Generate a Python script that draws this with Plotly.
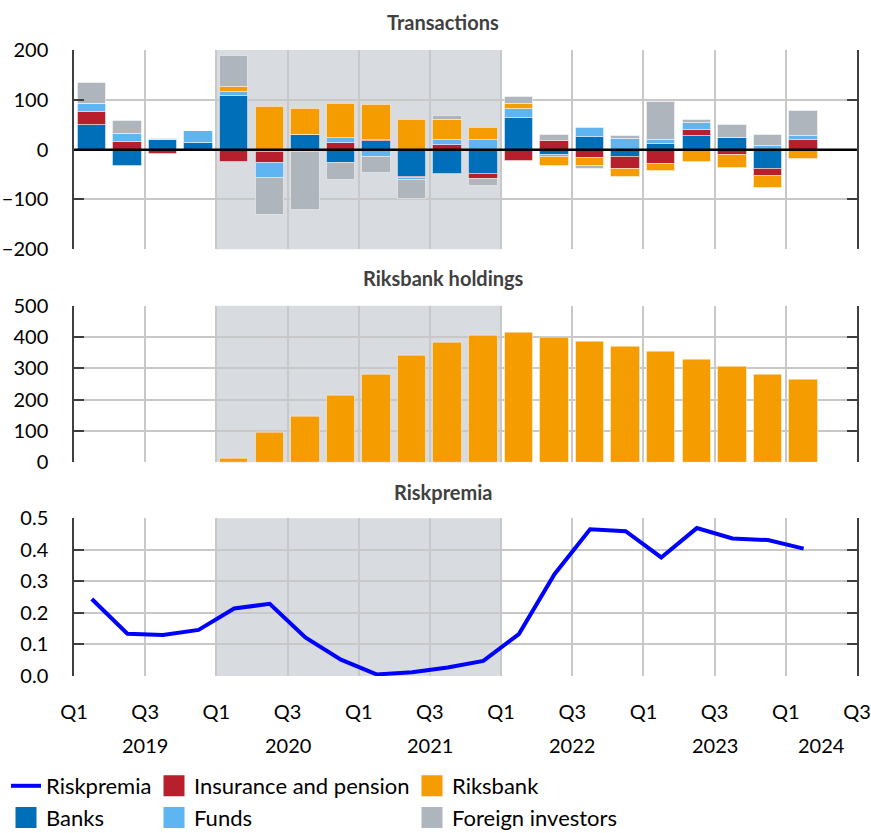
import numpy as np
import plotly.graph_objects as go

# ---------------- data ----------------
quarters = ["2019Q1", "2019Q2", "2019Q3", "2019Q4",
            "2020Q1", "2020Q2", "2020Q3", "2020Q4",
            "2021Q1", "2021Q2", "2021Q3", "2021Q4",
            "2022Q1", "2022Q2", "2022Q3", "2022Q4",
            "2023Q1", "2023Q2", "2023Q3", "2023Q4",
            "2024Q1"]

banks = [49, -32, 20, 13, 107, -4, 30, -27, 17, -54, -49, -49,
         64, -11.5, 26, -15.5, 11.5, 28, 24, -39, 0]
insurance = [27, 15, -8, 0, -25, -23, -4, 13, 3, -2, 9, -9,
             -22, 17.5, -16, -23.5, -29, 12, -11.5, -13, 19]
funds = [15, 17, 0, 25, 9, -30, 0, 11, -15.5, -5, 10, 19,
         17, -4, 17, 21.5, 8.5, 14, 0, 8, 9]
riksbank = [0, 0, 0, 0, 10, 85, 51, 67, 70, 59.5, 40.5, 23.5,
            10, -17.5, -16, -16, -14, -25.5, -24.5, -25, -19]
foreign = [42, 25, 2, 0, 61, -74, -118, -34, -32, -39, 9, -14,
           15, 12.5, -6.5, 5.5, 75, 6, 25, 22, 50]

holdings = [0, 0, 0, 0, 10, 95, 145, 211, 281, 340, 382, 405,
            415, 398, 384, 368, 354, 329, 304, 280, 263]

riskpremia = [0.244, 0.134, 0.130, 0.146, 0.214, 0.229, 0.122, 0.052,
              0.005, 0.012, 0.027, 0.048, 0.133, 0.323, 0.465, 0.459,
              0.376, 0.469, 0.436, 0.431, 0.404]

quarter_ticks = ["Q1", "Q3"] * 6          # every second quarter boundary, 2019Q1..2024Q3
years = ["2019", "2020", "2021", "2022", "2023", "2024"]
shade_start, shade_end = "2020Q1", "2022Q1"

# ---------------- styling ----------------
FONT = "Lato"
C_BANKS = "#006FB9"
C_INS = "#B71F2C"
C_FUNDS = "#5FB4F2"
C_RB = "#F59C00"
C_FOR = "#AFB5BC"
C_LINE = "#0000FF"
C_SHADE = "#D8DBE0"
C_GRID = "#C8C8C8"
C_AXIS = "#3F3F3F"

n_q = len(quarters)
x_pos = np.arange(n_q) + 0.5                 # bar centred within its quarter
x_max = len(quarter_ticks) * 2 - 2           # last boundary shown (2024Q3)
tick_pos = np.arange(0, x_max + 1, 2)
year_pos = [(4 * i + min(4 * i + 4, x_max)) / 2 for i in range(len(years))]

fig = go.Figure()

bar_line = dict(color="rgba(255,255,255,0.45)", width=1)
series = [("Banks", banks, C_BANKS), ("Insurance and pension", insurance, C_INS),
          ("Funds", funds, C_FUNDS), ("Riksbank", riksbank, C_RB),
          ("Foreign investors", foreign, C_FOR)]
for name, vals, col in series:
    fig.add_trace(go.Bar(x=x_pos, y=vals, width=0.8, name=name,
                         marker=dict(color=col, line=bar_line),
                         xaxis="x", yaxis="y", showlegend=False,
                         legendgroup=name))

fig.add_trace(go.Bar(x=x_pos, y=holdings, width=0.8, name="Riksbank holdings",
                     marker=dict(color=C_RB, line=bar_line),
                     xaxis="x2", yaxis="y2", showlegend=False,
                     legendgroup="Riksbank"))

fig.add_trace(go.Scatter(x=x_pos, y=riskpremia, mode="lines", name="Riskpremia",
                         line=dict(color=C_LINE, width=4),
                         xaxis="x3", yaxis="y3", legend="legend",
                         legendgroup="Riskpremia"))

# legend entries (square swatches) in three columns
legend_cols = {
    "legend": [("Banks", C_BANKS)],
    "legend2": [("Insurance and pension", C_INS), ("Funds", C_FUNDS)],
    "legend3": [("Riksbank", C_RB), ("Foreign investors", C_FOR)],
}
for leg, items in legend_cols.items():
    for name, col in items:
        fig.add_trace(go.Scatter(x=[None], y=[None], mode="markers", name=name,
                                 marker=dict(symbol="square", size=16, color=col,
                                             line=dict(color=col, width=5)),
                                 xaxis="x3", yaxis="y3", legend=leg,
                                 legendgroup=name))

# shaded period in each panel
i0, i1 = quarters.index(shade_start), quarters.index(shade_end)
for yref in ["y", "y2", "y3"]:
    xr = {"y": "x", "y2": "x2", "y3": "x3"}[yref]
    fig.add_shape(type="rect", xref=xr, yref=yref + " domain", x0=i0, x1=i1,
                  y0=0, y1=1, fillcolor=C_SHADE, line_width=0, layer="below")

# zero line across transactions panel
fig.add_shape(type="line", xref="x domain", yref="y", x0=0, x1=1, y0=0, y1=0,
              line=dict(color="black", width=2.5), layer="above")

tickfont = dict(family=FONT, size=20, color="black")

xcommon = dict(range=[0, x_max], tickvals=tick_pos, showgrid=True, gridcolor=C_GRID,
               gridwidth=1.5, zeroline=False, showline=False, ticks="")
ycommon = dict(showgrid=True, gridcolor=C_GRID, gridwidth=1.5, showline=True,
               linecolor=C_AXIS, linewidth=1.5, mirror="ticks", ticks="inside",
               ticklen=10, tickcolor=C_AXIS, tickwidth=1.5, tickfont=tickfont,
               ticklabelstandoff=20)

fig.update_layout(
    width=871, height=833,
    margin=dict(l=74, r=14, t=50, b=157, autoexpand=False),
    paper_bgcolor="white", plot_bgcolor="rgba(0,0,0,0)",
    barmode="relative", bargap=0,
    font=dict(family=FONT, size=20, color="black"),
    xaxis=dict(**xcommon, anchor="y", showticklabels=False),
    xaxis2=dict(**xcommon, anchor="y2", matches="x", showticklabels=False),
    xaxis3=dict(**xcommon, anchor="y3", matches="x", showticklabels=True,
                ticktext=quarter_ticks, tickfont=tickfont, ticklabelstandoff=22),
    yaxis=dict(**ycommon, domain=[0.6816, 1.0], range=[-200, 200], dtick=100,
               zeroline=False),
    yaxis2=dict(**ycommon, domain=[0.3414, 0.5915], range=[0, 500], dtick=100,
                zeroline=False),
    yaxis3=dict(**ycommon, domain=[0.0, 0.2519], range=[0, 0.5], dtick=0.1,
                tickformat=".1f", zeroline=False),
    showlegend=True,
)

# year labels under the quarter ticks
for yr, xp in zip(years, year_pos):
    fig.add_annotation(text=yr, x=xp, xref="x3", y=(676 - 745) / 626, yref="paper",
                       showarrow=False, font=tickfont, xanchor="center",
                       yanchor="middle")

leg_font = dict(family=FONT, size=22, color="black")
legend_y = (676 - 765) / 626
for leg, px in [("legend", 6), ("legend2", 154), ("legend3", 412)]:
    fig.update_layout({leg: dict(x=(px - 74) / 783, y=legend_y, xanchor="left",
                                 yanchor="top", orientation="v", font=leg_font,
                                 bgcolor="rgba(0,0,0,0)", borderwidth=0,
                                 tracegroupgap=0, traceorder="grouped")})

# panel titles
for text, ypx in [("Transactions", 22), ("Riksbank holdings", 278), ("Riskpremia", 492)]:
    fig.add_annotation(text=f"<b>{text}</b>", xref="paper", yref="paper",
                       x=(443 - 74) / 783, y=(676 - ypx) / 626, showarrow=False,
                       font=dict(family=FONT, size=20, color="#404040"),
                       xanchor="center", yanchor="middle")

fig.write_html("out.html",
               config={"displayModeBar": False},
               post_script="document.body.style.margin='0px';"
                           "document.body.style.overflow='hidden';")
